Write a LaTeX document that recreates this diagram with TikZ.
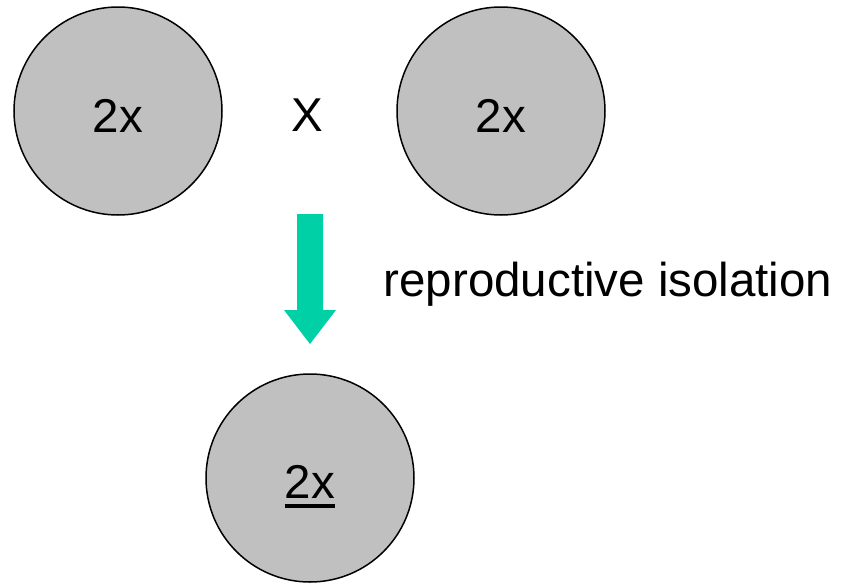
\documentclass[tikz,border=0pt]{standalone}
\usepackage{fontspec}
\setmainfont{Liberation Sans}
\definecolor{cellgray}{HTML}{C0C0C0}
\definecolor{arrowgreen}{RGB}{0,208,166}
\begin{document}
\begin{tikzpicture}[x=1pt,y=-1pt,
  cell/.style={circle,draw=black,line width=1.5pt,fill=cellgray,minimum size=208pt,inner sep=0pt},
  lbl/.style={font=\fontsize{47.5}{56}\selectfont,inner sep=0pt,anchor=base}]
\useasboundingbox (0,0) rectangle (847,584);
\node[cell] (c1) at (118,111) {};
\node[cell] (c2) at (501,111) {};
\node[cell] (c3) at (310,478) {};
\node[lbl] (t1) at (118,132) {2x};
\node[lbl] (t2) at (501,132) {2x};
\node[lbl] (t3) at (310,498) {2x};
\draw[line width=3.6pt] ([yshift=-8pt]t3.base west) -- ([yshift=-8pt]t3.base east);
\node[lbl] (cross) at (307,131) {X};
\node[lbl] (iso) at (608,296) {reproductive isolation};
\fill[arrowgreen] (297,214) -- (323,214) -- (323,310) -- (336,310) -- (310,344) -- (284,310) -- (297,310) -- cycle;
\end{tikzpicture}
\end{document}
